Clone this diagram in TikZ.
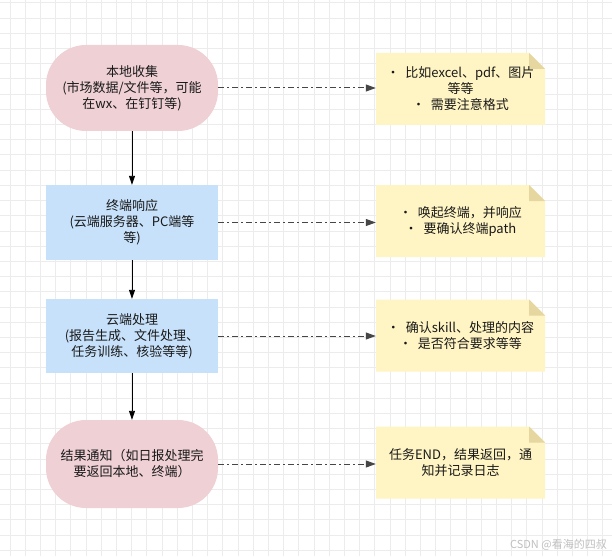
\documentclass[tikz,border=0pt]{standalone}
\usepackage{fontspec}
\setmainfont{Noto Sans CJK SC}
\usetikzlibrary{arrows.meta}
\definecolor{gridgray}{RGB}{236,236,236}
\definecolor{pinkfill}{RGB}{238,208,213}
\definecolor{bluefill}{RGB}{199,225,250}
\definecolor{notefill}{RGB}{255,244,195}
\definecolor{foldfill}{RGB}{230,214,160}
\definecolor{txt}{RGB}{25,25,25}
\definecolor{hintgray}{RGB}{70,70,70}
\begin{document}
\begin{tikzpicture}[x=1pt,y=-1pt,
  every node/.style={font=\fontsize{13}{16}\selectfont,text=txt,align=center,inner sep=0pt},
  endbox/.style={fill=pinkfill,minimum width=172pt,rounded corners=40pt},
  workbox/.style={fill=bluefill,minimum width=172pt},
  notebox/.style={minimum width=169pt,minimum height=72pt,
    path picture={
      \fill[notefill] (path picture bounding box.north west)
        -- ([xshift=-16pt]path picture bounding box.north east)
        -- ([yshift=-16pt]path picture bounding box.north east)
        -- (path picture bounding box.south east)
        -- (path picture bounding box.south west) -- cycle;
      \fill[foldfill] ([xshift=-16pt]path picture bounding box.north east)
        -- ([xshift=-16pt,yshift=-16pt]path picture bounding box.north east)
        -- ([yshift=-16pt]path picture bounding box.north east) -- cycle;
    }},
  flow/.style={-{Triangle[length=9pt,width=6pt]},line width=0.9pt,black},
  hint/.style={-{Triangle[length=10pt,width=7pt]},line width=1pt,hintgray,
    dash pattern=on 6pt off 3pt on 2pt off 3pt}]
\fill[white] (0,0) rectangle (612,556);
\useasboundingbox (0,0) rectangle (612,556);
\foreach \i in {0,...,39} \draw[gridgray,line width=1pt] (10+15.2*\i,0) -- (10+15.2*\i,556);
\foreach \j in {0,...,36} \draw[gridgray,line width=1pt] (0,3+15.2*\j) -- (612,3+15.2*\j);

\node[endbox,minimum height=86pt] (collect) at (132,88) {本地收集\\(市场数据/文件等，可能\\在wx、在钉钉等)};
\node[workbox,minimum height=75pt] (terminal) at (132,222.5) {终端响应\\(云端服务器、PC端等\\等)};
\node[workbox,minimum height=74pt] (cloud) at (132,336) {云端处理\\(报告生成、文件处理、\\任务训练、核验等等)};
\node[endbox,minimum height=88pt] (notify) at (132,464) {结果通知（如日报处理完\\要返回本地、终端）};

\node[notebox] (note1) at (460.5,89) {•\ \ 比如excel、pdf、图片\\等等\\•\ \ 需要注意格式};
\node[notebox] (note2) at (460.5,221) {•\ \ 唤起终端，并响应\\•\ \ 要确认终端path};
\node[notebox] (note3) at (460.5,335.5) {•\ \ 确认skill、处理的内容\\•\ \ 是否符合要求等等};
\node[notebox] (note4) at (460.5,462.5) {任务END，结果返回，通\\知并记录日志};

\draw[flow] (collect) -- (terminal);
\draw[flow] (terminal) -- (cloud);
\draw[flow] (cloud) -- (notify);

\draw[hint] (collect.east) -- (collect.east -| note1.west);
\draw[hint] (terminal.east) -- (terminal.east -| note2.west);
\draw[hint] (cloud.east) -- (cloud.east -| note3.west);
\draw[hint] (notify.east) -- (notify.east -| note4.west);

\node[font=\fontsize{11}{12}\selectfont,text=gray!50,anchor=east] (mark) at (607,545) {CSDN @看海的四叔};
\end{tikzpicture}
\end{document}
